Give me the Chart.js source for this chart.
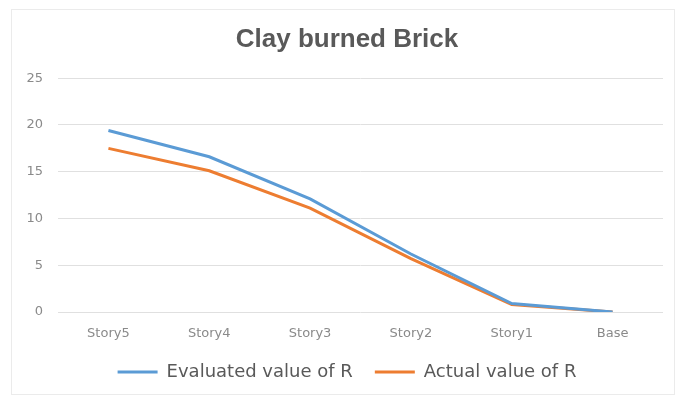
<!DOCTYPE html>
<html>
<head>
<meta charset="utf-8">
<script src="https://cdn.jsdelivr.net/npm/chart.js@4/dist/chart.umd.min.js"></script>
<style>
  html, body { margin: 0; padding: 0; background: #ffffff; }
  #wrap { position: relative; width: 686px; height: 401px; }
  #frame { position: absolute; left: 11px; top: 9px; width: 664px; height: 386px; border: 1px solid #ebebeb; box-sizing: border-box; }
  canvas { position: absolute; left: 0; top: 0; }
</style>
</head>
<body>
<div id="wrap">
  <div id="frame"></div>
  <canvas id="c" width="686" height="401"></canvas>
</div>
<script>
// Response ratio R per storey level
const categories = ["Story5", "Story4", "Story3", "Story2", "Story1", "Base"];
const evaluatedR = [19.4, 16.6, 12.1, 6.2, 0.9, 0];
const actualR = [17.5, 15.1, 11.1, 5.7, 0.8, 0];
const yTicks = [0, 5, 10, 15, 20, 25];

const tickFont = { family: "'DejaVu Sans', sans-serif", size: 13 };

new Chart(document.getElementById("c"), {
  type: "line",
  data: {
    labels: categories,
    datasets: [
      {
        label: "Evaluated value of R",
        data: evaluatedR,
        borderColor: "#5B9BD5",
        backgroundColor: "#5B9BD5",
        borderWidth: 3,
        pointRadius: 0,
        tension: 0
      },
      {
        label: "Actual value of R",
        data: actualR,
        borderColor: "#ED7D31",
        backgroundColor: "#ED7D31",
        borderWidth: 3,
        pointRadius: 0,
        tension: 0
      }
    ]
  },
  options: {
    responsive: false,
    animation: false,
    layout: { padding: { left: 17, right: 9, top: 0, bottom: 10 } },
    plugins: {
      title: {
        display: true,
        text: "Clay burned Brick",
        color: "#595959",
        font: { family: "'Liberation Sans', Arial, sans-serif", size: 26, weight: "bold", lineHeight: 1.2 },
        padding: { top: 24, bottom: 23 }
      },
      legend: {
        position: "bottom",
        labels: {
          usePointStyle: true,
          pointStyle: "line",
          pointStyleWidth: 40,
          color: "#595959",
          padding: 22,
          font: { family: "'DejaVu Sans', sans-serif", size: 18 },
          generateLabels(chart) {
            return chart.data.datasets.map((ds, i) => ({
              text: ds.label,
              strokeStyle: ds.borderColor,
              fillStyle: ds.borderColor,
              lineWidth: 3,
              pointStyle: "line",
              fontColor: "#595959",
              datasetIndex: i
            }));
          }
        }
      },
      tooltip: { enabled: false }
    },
    scales: {
      x: {
        offset: true,
        grid: { display: false },
        border: { display: false },
        ticks: { color: "#8a8a8a", padding: 6, font: tickFont },
        afterFit(axis) { axis.height = 29; }
      },
      y: {
        min: 0,
        max: 25,
        afterBuildTicks(axis) { axis.ticks = yTicks.map(v => ({ value: v })); },
        afterFit(axis) { axis.width = 41; },
        grid: { color: "#e0e0e0", lineWidth: 1, drawTicks: false },
        border: { display: false },
        ticks: { color: "#8a8a8a", padding: 15, font: tickFont }
      },
      // empty right-hand margin axis
      yRight: {
        position: "right",
        grid: { display: false },
        border: { display: false },
        ticks: { display: false },
        afterFit(axis) { axis.width = 14; }
      }
    }
  }
});
</script>
</body>
</html>
